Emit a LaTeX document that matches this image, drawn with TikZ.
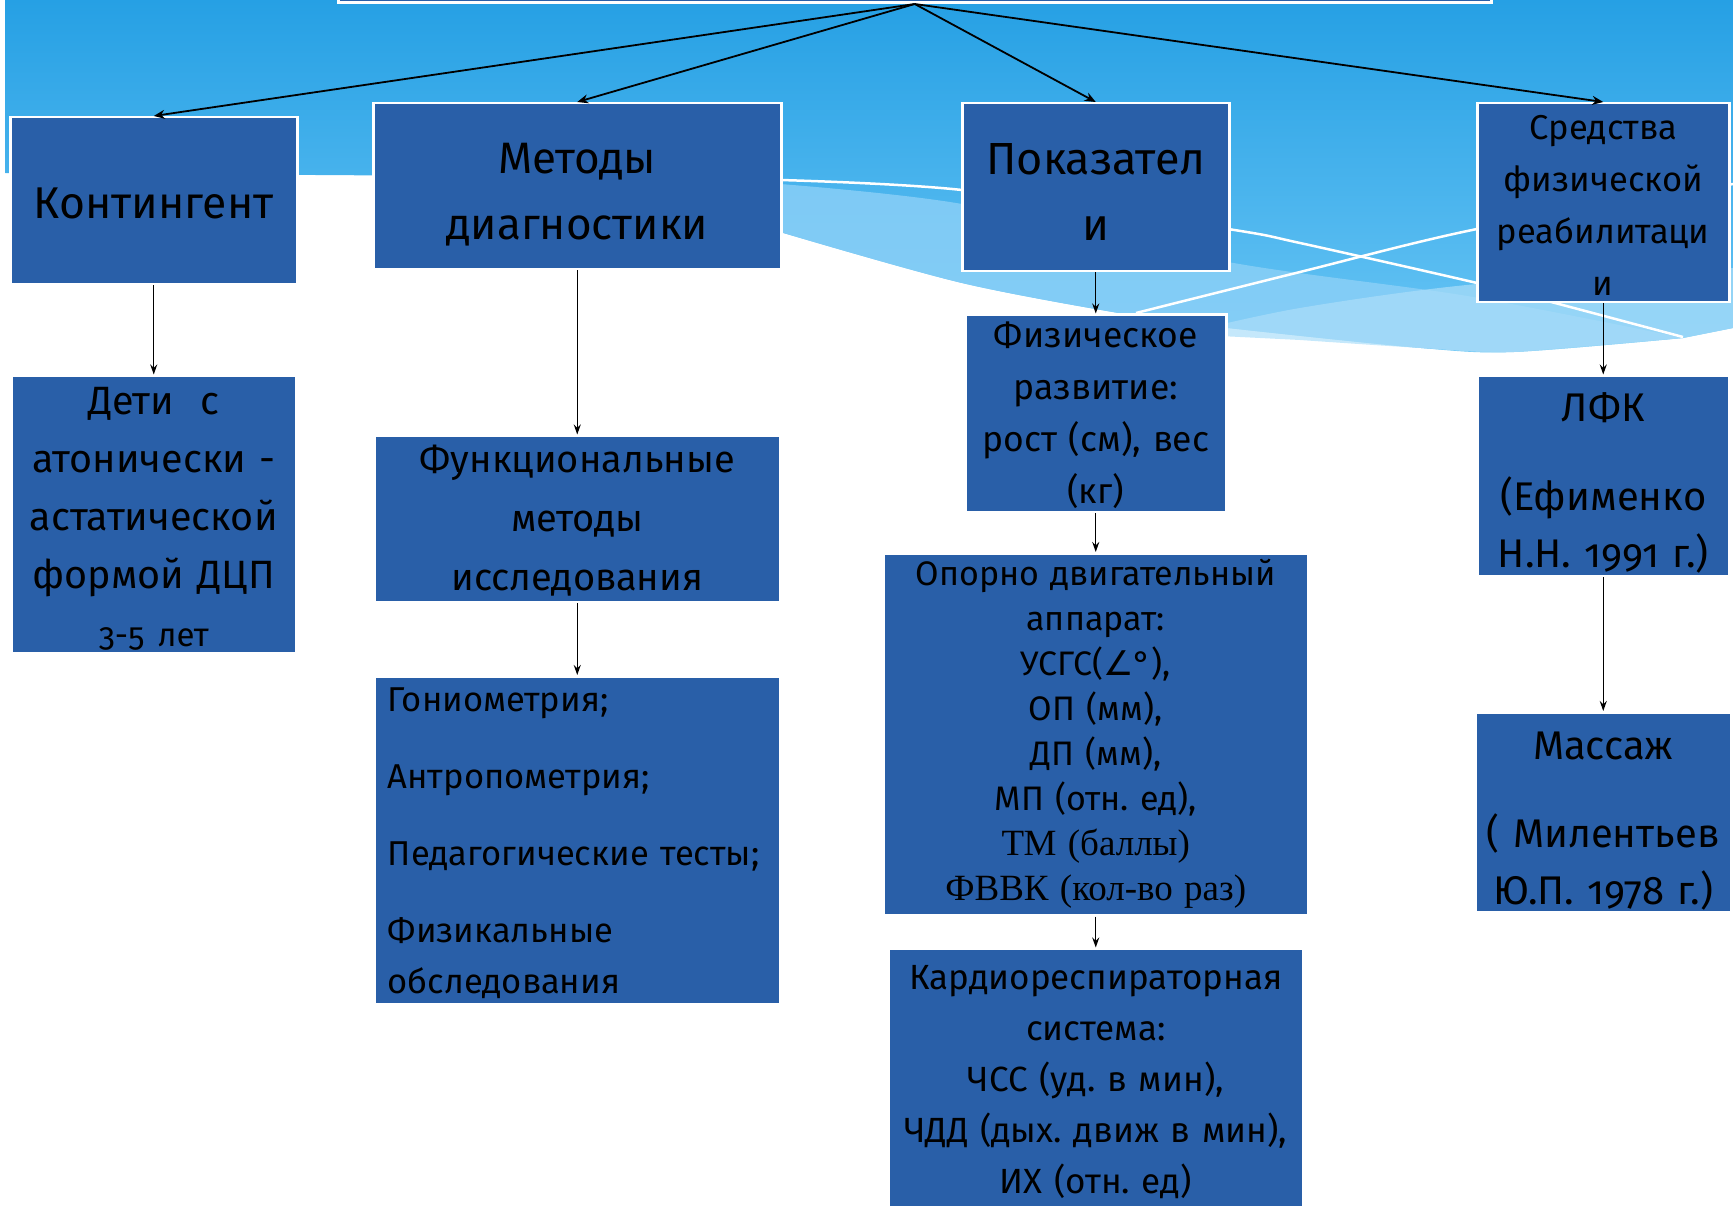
\documentclass[tikz,border=0pt]{standalone}
\usepackage{fontspec}
\setmainfont{Fira Sans}[Numbers=OldStyle]
\newfontfamily\serifpart{Liberation Serif}
\newfontfamily\symbpart{DejaVu Sans}
\usetikzlibrary{arrows.meta, positioning}
\definecolor{boxblue}{RGB}{41,95,168}
\definecolor{skytop}{RGB}{38,160,228}
\definecolor{skybottom}{RGB}{104,197,245}
\definecolor{wavelight}{RGB}{140,208,247}
\definecolor{wavepale}{RGB}{172,222,249}
\frenchspacing

\begin{document}
\begin{tikzpicture}[
  x=1pt, y=-1pt,
  node distance=40pt,
  topbox/.style={rectangle, draw=white, line width=2.5pt, fill=boxblue, inner sep=0pt, align=center},
  txt/.style n args={3}{text width=#1, text height=#2, text depth=#3},
  arr/.style={-{Stealth[length=11pt,width=9pt]}, line width=1.8pt, black},
  subarr/.style={-{Stealth[length=10pt,width=7pt]}, line width=1.3pt, black}
]
\useasboundingbox (0,0) rectangle (1733,1206);
\clip (0,0) rectangle (1733,1206);

% background waves
\shade[top color=skytop, bottom color=skybottom] (5,0) -- (1733,0) -- (1733,328)
  -- plot[smooth] coordinates {(1683,338) (1514,352) (1421,348) (1228,328) (1136,316) (962,283) (780,232)}
  -- (780,178) -- (5,173) -- cycle;
\fill[wavelight, opacity=0.8] plot[smooth] coordinates {(780,184) (962,204) (1228,262) (1467,296) (1683,338)}
  -- plot[smooth] coordinates {(1514,352) (1421,348) (1228,328) (1136,316) (962,283) (780,232)} -- cycle;
\fill[wavepale, opacity=0.7] plot[smooth] coordinates {(1180,334) (1300,308) (1477,284) (1733,268)}
  -- (1733,328) -- plot[smooth] coordinates {(1683,338) (1514,352) (1421,348) (1300,340)} -- cycle;
\draw[white, line width=2.5pt] plot[smooth] coordinates {(780,180) (962,190) (1228,229) (1300,243) (1477,283) (1555,303) (1683,337)};
\draw[white, line width=2.5pt] plot[smooth] coordinates {(1136,313) (1300,272) (1477,229) (1733,184)};

% top row
\node[topbox, minimum width=1153pt, minimum height=120pt, anchor=south west] (title) at (337,4) {};
\node[topbox, minimum width=287pt, txt={287pt}{101pt}{66pt}, anchor=north west, font=\fontsize{44.5}{66}\selectfont] (kont) at (9,116) {Контингент};
\node[topbox, minimum width=408pt, txt={408pt}{70pt}{96pt}, anchor=north west, font=\fontsize{44}{66}\selectfont] (metod) at (372,102) {Методы\\диагностики};
\node[topbox, minimum width=267pt, txt={267pt}{71pt}{97pt}, anchor=north west, font=\fontsize{45}{66}\selectfont] (pokaz) at (961,102) {Показател\\и};
\node[topbox, minimum width=252pt, txt={252pt}{36pt}{163pt}, anchor=north west, font=\fontsize{34.5}{52}\selectfont] (sredstva) at (1476,102) {Средства\\физической\\реабилитаци\\и};

% columns
\node[topbox, below=89pt of kont, minimum width=285pt, txt={285pt}{39pt}{238pt}, font=\fontsize{39.5}{58}\selectfont] (deti) {Дети\ \ с\\атонически -\\астатической\\формой ДЦП\\{\fontsize{33}{58}\selectfont 3-5 лет}};
\node[topbox, below=164pt of metod, minimum width=406pt, txt={406pt}{37pt}{129pt}, font=\fontsize{38}{59}\selectfont] (funk) {Функциональные\\методы\\исследования};
\node[topbox, below=72pt of funk, minimum width=405pt, align=left, txt={379pt}{35pt}{293pt}, inner xsep=13pt, font=\fontsize{34.5}{51}\selectfont] (metlist) {Гониометрия;\\[26pt]Антропометрия;\\[26pt]Педагогические тесты;\\[26pt]Физикальные\\обследования};
\node[topbox, below=41pt of pokaz, minimum width=261pt, txt={261pt}{33pt}{164pt}, font=\fontsize{35.5}{52}\selectfont] (fiz) {Физическое\\развитие:\\рост (см), вес\\(кг)};
\node[topbox, below=39pt of fiz, minimum width=424pt, txt={424pt}{32pt}{330pt}, font=\fontsize{34}{45}\selectfont] (opora) {Опорно двигательный\\аппарат:\\УСГС({\symbpart ∠}°),\\ОП (мм),\\ДП (мм),\\МП (отн. ед),\\{\serifpart\fontsize{37}{45}\selectfont ТМ (баллы)}\\{\serifpart\fontsize{37}{45}\selectfont ФВВК (кол-во раз)}};
\node[topbox, below=31pt of opora, minimum width=414pt, txt={414pt}{41pt}{239pt}, font=\fontsize{35}{51}\selectfont] (kardio) {Кардиореспираторная\\система:\\ЧСС (уд. в мин),\\ЧДД (дых. движ в мин),\\ИХ (отн. ед)};
\node[topbox, below=71pt of sredstva, minimum width=251pt, txt={251pt}{46pt}{154pt}, font=\fontsize{40}{57}\selectfont] (lfk) {ЛФК\\[32pt](Ефименко\\Н.Н. 1991 г.)};
\node[topbox, below=134pt of lfk, minimum width=255pt, txt={255pt}{47pt}{153pt}, font=\fontsize{40}{57}\selectfont] (massazh) {Массаж\\[31pt]( Милентьев\\Ю.П. 1978 г.)};

\draw[arr] (title.south) -- (kont.north);
\draw[arr] (title.south) -- (metod.north);
\draw[arr] (title.south) -- (pokaz.north);
\draw[arr] (title.south) -- (sredstva.north);
\draw[subarr] (kont) -- (deti);
\draw[subarr] (metod) -- (funk);
\draw[subarr] (funk) -- (metlist);
\draw[subarr] (pokaz) -- (fiz);
\draw[subarr] (fiz) -- (opora);
\draw[subarr] (opora) -- (kardio);
\draw[subarr] (sredstva) -- (lfk);
\draw[subarr] (lfk) -- (massazh);
\end{tikzpicture}
\end{document}
